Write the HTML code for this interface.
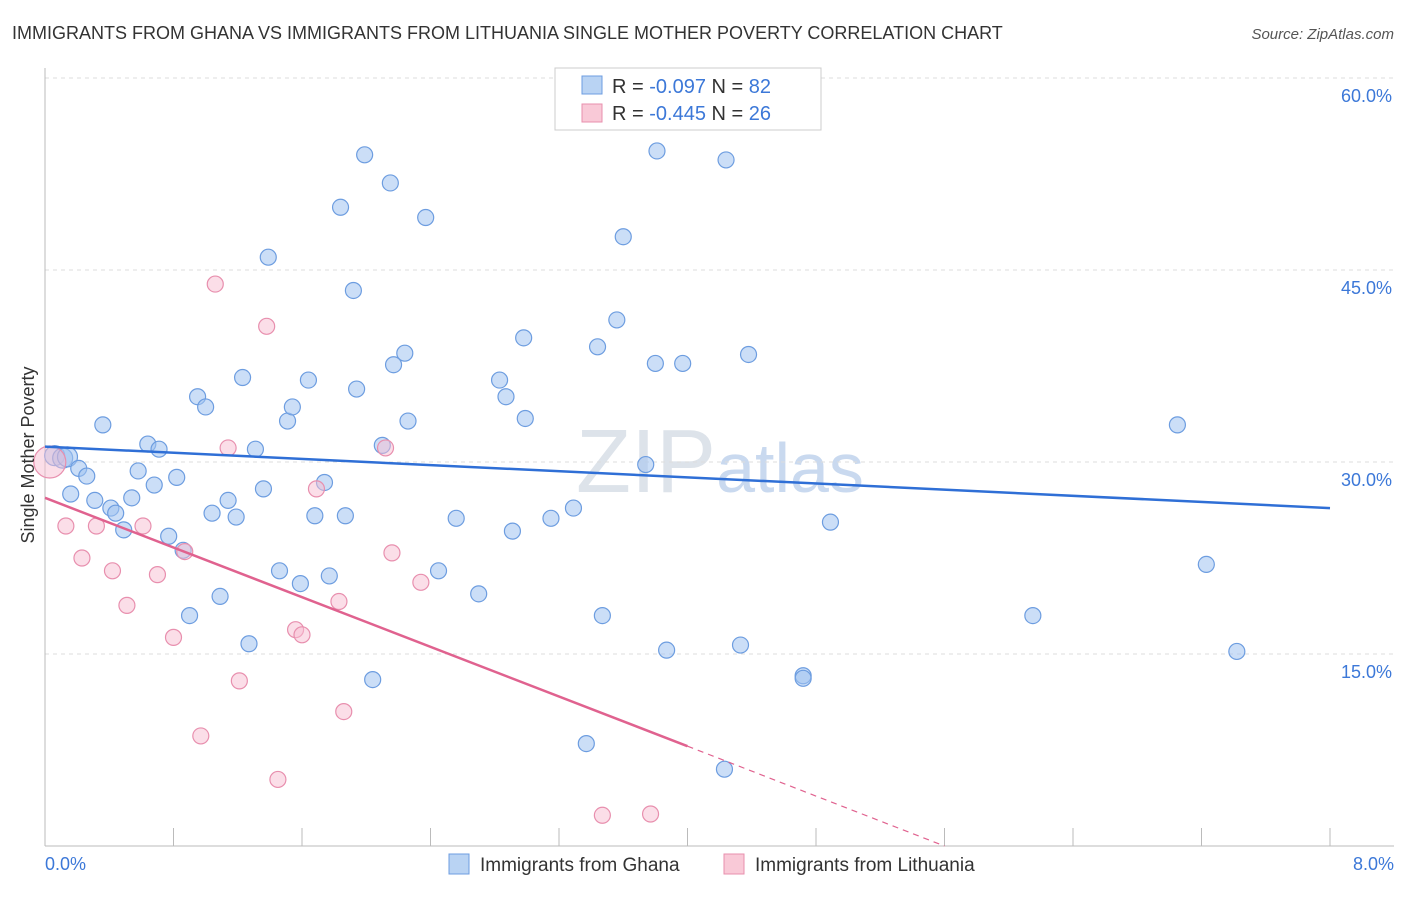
<!DOCTYPE html>
<html><head><meta charset="utf-8"><style>
body{margin:0;background:#fff;font-family:"Liberation Sans",sans-serif}
svg text{font-family:"Liberation Sans",sans-serif}
</style></head><body>
<svg id="chart" width="1406" height="892">
<text x="12" y="39" font-size="18" fill="#333">IMMIGRANTS FROM GHANA VS IMMIGRANTS FROM LITHUANIA SINGLE MOTHER POVERTY CORRELATION CHART</text>
<text x="1394" y="39" font-size="15" fill="#555" text-anchor="end" font-style="italic">Source: ZipAtlas.com</text>
<text x="720" y="492" font-size="90" fill="#dde3ea" text-anchor="middle" font-family="Liberation Serif">ZIP<tspan fill="#c9d9ef" font-family="Liberation Sans" font-size="70">atlas</tspan></text>
<g id="grid"></g><g id="axes"></g><g id="pts"></g><g id="lines"></g>
<text transform="translate(34,455) rotate(-90)" font-size="18" fill="#333" text-anchor="middle">Single Mother Poverty</text>
<g>
<rect x="555" y="68" width="266" height="62" fill="#fff" stroke="#ccc"/>
<rect x="582" y="76" width="20" height="18" fill="#b9d3f3" stroke="#6d9de0"/>
<rect x="582" y="104" width="20" height="18" fill="#f9c9d7" stroke="#e88fae"/>
<text x="612" y="93" font-size="20" fill="#333">R = <tspan fill="#3c78d8">-0.097</tspan>   N = <tspan fill="#3c78d8">82</tspan></text>
<text x="612" y="120" font-size="20" fill="#333">R = <tspan fill="#3c78d8">-0.445</tspan>   N = <tspan fill="#3c78d8">26</tspan></text>
</g>
<g>
<rect x="449" y="854" width="20" height="20" fill="#b9d3f3" stroke="#6d9de0"/>
<text x="480" y="871" font-size="19" fill="#333">Immigrants from Ghana</text>
<rect x="724" y="854" width="20" height="20" fill="#f9c9d7" stroke="#e88fae"/>
<text x="755" y="871" font-size="19" fill="#333">Immigrants from Lithuania</text>
</g>
</svg>
<script>
const ghanaX=[0.06,0.11,0.14,0.21,0.26,0.16,0.31,0.36,0.41,0.44,0.49,0.54,0.58,0.64,0.68,0.71,0.77,0.82,0.86,0.90,0.95,1.00,1.04,1.09,1.14,1.19,1.23,1.27,1.31,1.36,1.39,1.46,1.51,1.54,1.59,1.64,1.68,1.74,1.77,1.84,1.87,1.92,1.94,1.99,2.04,2.10,2.15,2.17,2.24,2.26,2.37,2.45,2.56,2.70,2.83,2.87,2.91,2.98,2.99,3.15,3.29,3.37,3.44,3.47,3.56,3.60,3.74,3.80,3.81,3.87,3.97,4.23,4.24,4.33,4.38,4.72,4.72,4.89,6.15,7.05,7.23,7.42];
const ghanaY=[30.5,30.3,30.4,29.5,28.9,27.5,27.0,32.9,26.4,26.0,24.7,27.2,29.3,31.4,28.2,31.0,24.2,28.8,23.1,18.0,35.1,34.3,26.0,19.5,27.0,25.7,36.6,15.8,31.0,27.9,46.0,21.5,33.2,34.3,20.5,36.4,25.8,28.4,21.1,49.9,25.8,43.4,35.7,54.0,13.0,31.3,51.8,37.6,38.5,33.2,49.1,21.5,25.6,19.7,36.4,35.1,24.6,39.7,33.4,25.6,26.4,8.0,39.0,18.0,41.1,47.6,29.8,37.7,54.3,15.3,37.7,6.0,53.6,15.7,38.4,13.3,13.1,25.3,18.0,32.9,22.0,15.2];
const lithX=[0.03,0.13,0.23,0.32,0.42,0.51,0.61,0.70,0.80,0.87,0.97,1.06,1.14,1.21,1.38,1.45,1.56,1.60,1.69,1.83,1.86,2.12,2.16,2.34,3.47,3.77];
const lithY=[30.0,25.0,22.5,25.0,21.5,18.8,25.0,21.2,16.3,23.0,8.6,43.9,31.1,12.9,40.6,5.2,16.9,16.5,27.9,19.1,10.5,31.1,22.9,20.6,2.4,2.5];
const yTicks=[15,30,45,60];
const xTickLabels=["0.0%","8.0%"];
const X=v=>45+v/8*1285, Y=v=>846-v/15*192;
const NS="http://www.w3.org/2000/svg";
function mk(tag,attrs,parent){const e=document.createElementNS(NS,tag);for(const k in attrs)e.setAttribute(k,attrs[k]);document.getElementById(parent).appendChild(e);return e;}
yTicks.forEach(t=>{
 const l=mk('line',{x1:45,x2:1394,y1:Y(t),y2:Y(t),stroke:'#ddd','stroke-dasharray':'4,4'},'grid');
 
 
 const tx=mk('text',{x:1392,y:Y(t)+24,'font-size':18,fill:'#3c78d8','text-anchor':'end'},'grid');
 tx.textContent=t.toFixed(1)+'%';
 
 
});
const ax=mk('line',{x1:45,x2:45,y1:68,y2:846,stroke:'#bbb'},'axes');


const bx=mk('line',{x1:45,x2:1394,y1:846,y2:846,stroke:'#bbb'},'axes');


for(let i=0;i<=10;i++){const tk=mk('line',{x1:X(i*0.8),x2:X(i*0.8),y1:828,y2:846,stroke:'#bbb'},'axes');
 
 }
[[0,'start',45],[8,'end',1394]].forEach((d,i)=>{const t=mk('text',{x:d[2],y:870,'font-size':18,fill:'#3c78d8','text-anchor':d[1]},'axes');t.textContent=xTickLabels[i];
 
 });
ghanaX.forEach((x,i)=>{const c=mk('circle',{cx:X(x),cy:Y(ghanaY[i]),r:i<3?10:8,fill:'rgba(160,195,240,0.55)',stroke:'#6d9de0','stroke-width':1.2},'pts');
 
 });
lithX.forEach((x,i)=>{const c=mk('circle',{cx:X(x),cy:Y(lithY[i]),r:i==0?16:8,fill:'rgba(248,190,210,0.5)',stroke:'#e88fae','stroke-width':1.2},'pts');
 
 });
const bl=mk('line',{x1:X(0),y1:Y(31.2),x2:X(8),y2:Y(26.4),stroke:'#2f6fd6','stroke-width':2.5},'lines');


const pl=mk('line',{x1:X(0),y1:Y(27.2),x2:X(4),y2:Y(7.8),stroke:'#e0628f','stroke-width':2.5},'lines');


const pd=mk('line',{x1:X(4),y1:Y(7.8),x2:X(5.6),y2:Y(0),stroke:'#e0628f','stroke-width':1.2,'stroke-dasharray':'6,5'},'lines');


</script>
</body></html>
